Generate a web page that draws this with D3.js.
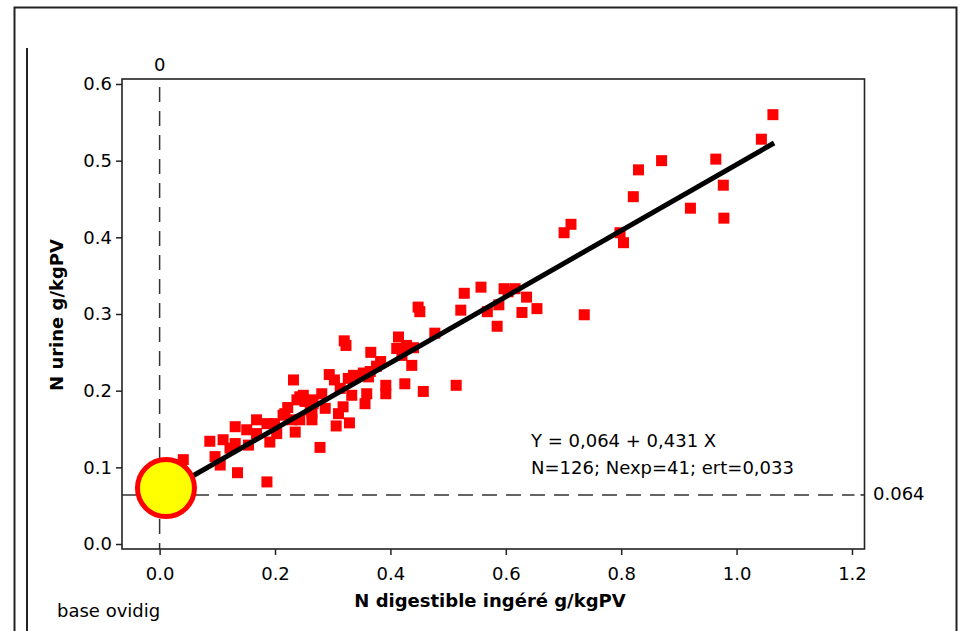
<!DOCTYPE html>
<html><head><meta charset="utf-8">
<script src="https://cdn.jsdelivr.net/npm/d3@7"></script>
<style>body{margin:0;background:#fff}svg{display:block}text{font-family:"DejaVu Sans",Verdana,sans-serif;fill:#000}</style>
</head><body><svg id="c" width="963" height="631"></svg>
<script>
const xVals = [1.063,1.043,0.964,0.977,0.978,0.920,0.870,0.830,0.821,0.713,0.701,0.798,0.804,0.736,0.654,0.628,0.636,0.616,0.597,0.604,0.588,0.568,0.585,0.557,0.528,0.522,0.448,0.451,0.477,0.414,0.411,0.428,0.440,0.420,0.437,0.425,0.457,0.514,0.366,0.320,0.323,0.294,0.303,0.281,0.249,0.327,0.336,0.353,0.365,0.362,0.392,0.392,0.313,0.333,0.359,0.356,0.266,0.261,0.287,0.318,0.310,0.264,0.306,0.329,0.243,0.278,0.232,0.243,0.238,0.264,0.264,0.214,0.229,0.235,0.199,0.203,0.191,0.168,0.186,0.151,0.168,0.131,0.154,0.131,0.122,0.110,0.087,0.096,0.105,0.135,0.186,0.041,0.222,0.252,0.217,0.376,0.383];
const yVals = [0.560,0.528,0.502,0.468,0.425,0.438,0.500,0.488,0.453,0.417,0.406,0.406,0.393,0.299,0.307,0.302,0.322,0.333,0.333,0.329,0.312,0.303,0.284,0.335,0.327,0.305,0.309,0.303,0.275,0.270,0.255,0.259,0.256,0.246,0.233,0.209,0.199,0.207,0.250,0.265,0.259,0.221,0.214,0.196,0.194,0.216,0.220,0.223,0.225,0.218,0.207,0.196,0.203,0.194,0.196,0.183,0.183,0.175,0.177,0.179,0.170,0.162,0.154,0.158,0.162,0.126,0.214,0.192,0.188,0.188,0.171,0.168,0.162,0.146,0.157,0.144,0.133,0.162,0.157,0.149,0.144,0.153,0.129,0.131,0.125,0.136,0.134,0.114,0.103,0.093,0.081,0.110,0.178,0.186,0.170,0.232,0.238];
const xTicks = [0.0,0.2,0.4,0.6,0.8,1.0,1.2];
const yTicks = [0.0,0.1,0.2,0.3,0.4,0.5,0.6];
const intercept = 0.064, slope = 0.431;
const lineXRange = [0.03, 1.065];
const bigPoint = [0.011, 0.073];
const eqLines = ["Y = 0,064 + 0,431 X", "N=126; Nexp=41; ert=0,033"];

const svg = d3.select("#c");
const L=122, R=864.5, T=79, B=549;
const x = d3.scaleLinear().domain([-0.0652, 1.2217]).range([L, R]);
const y = d3.scaleLinear().domain([-0.0065, 0.6065]).range([B, T]);

// outer borders
svg.append("rect").attr("x",14.5).attr("y",7.5).attr("width",942).attr("height",640)
  .attr("fill","none").attr("stroke","#222").attr("stroke-width",2);
svg.append("line").attr("x1",27).attr("x2",27).attr("y1",48).attr("y2",631).attr("stroke","#222").attr("stroke-width",2);

// reference dashed lines
svg.append("line").attr("x1",x(0)).attr("x2",x(0)).attr("y1",87).attr("y2",B)
  .attr("stroke","#333").attr("stroke-width",1.5).attr("stroke-dasharray","15,9");
svg.append("line").attr("x1",L).attr("x2",R-10).attr("y1",y(intercept)).attr("y2",y(intercept))
  .attr("stroke","#333").attr("stroke-width",1.5).attr("stroke-dasharray","15,9");

// frame
svg.append("rect").attr("x",L).attr("y",T).attr("width",R-L).attr("height",B-T)
  .attr("fill","none").attr("stroke","#222").attr("stroke-width",1.6);

// axes
const xa = svg.append("g").attr("transform",`translate(0,${B})`)
  .call(d3.axisBottom(x).tickValues(xTicks).tickFormat(d3.format(".1f")).tickSize(6).tickPadding(12));
const ya = svg.append("g").attr("transform",`translate(${L},0)`)
  .call(d3.axisLeft(y).tickValues(yTicks).tickFormat(d3.format(".1f")).tickSize(6).tickPadding(4));
[xa,ya].forEach(a=>{a.select(".domain").remove();a.selectAll("line").attr("stroke","#222").attr("stroke-width",1.5);
  a.selectAll("text").style("font-family","DejaVu Sans").style("font-size","18px").attr("fill","#000");});
svg.append("line").attr("x1",R-4).attr("x2",R).attr("y1",y(intercept)).attr("y2",y(intercept)).attr("stroke","#222").attr("stroke-width",1.5);

// points
svg.append("g").selectAll("rect").data(xVals.map((v,i)=>[v,yVals[i]])).join("rect")
  .attr("x",d=>x(d[0])-5.5).attr("y",d=>y(d[1])-5.5).attr("width",11).attr("height",11).attr("fill","#ff0000");

// regression line
svg.append("line").attr("x1",x(lineXRange[0])).attr("y1",y(intercept+slope*lineXRange[0]))
  .attr("x2",x(lineXRange[1])).attr("y2",y(intercept+slope*lineXRange[1]))
  .attr("stroke","#000").attr("stroke-width",5);

// big point
svg.append("circle").attr("cx",x(bigPoint[0])).attr("cy",y(bigPoint[1])).attr("r",28.5)
  .attr("fill","#ffff00").attr("stroke","#ff0000").attr("stroke-width",5);

// texts
svg.append("text").attr("x",x(0)).attr("y",71).attr("text-anchor","middle").style("font-size","18px").text("0");
svg.append("text").attr("x",873).attr("y",500).style("font-size","18px").text("0.064");
eqLines.forEach((t,i)=>svg.append("text").attr("x",531).attr("y",447+i*27).style("font-size","18px").text(t));
svg.append("text").attr("x",490).attr("y",607).attr("text-anchor","middle").style("font-size","18px").style("font-weight","bold").text("N digestible ingéré g/kgPV");
svg.append("text").attr("transform","translate(63,315) rotate(-90)").attr("text-anchor","middle").style("font-size","18px").style("font-weight","bold").text("N urine g/kgPV");
svg.append("text").attr("x",57).attr("y",617).style("font-size","18px").text("base ovidig");
</script></body></html>
